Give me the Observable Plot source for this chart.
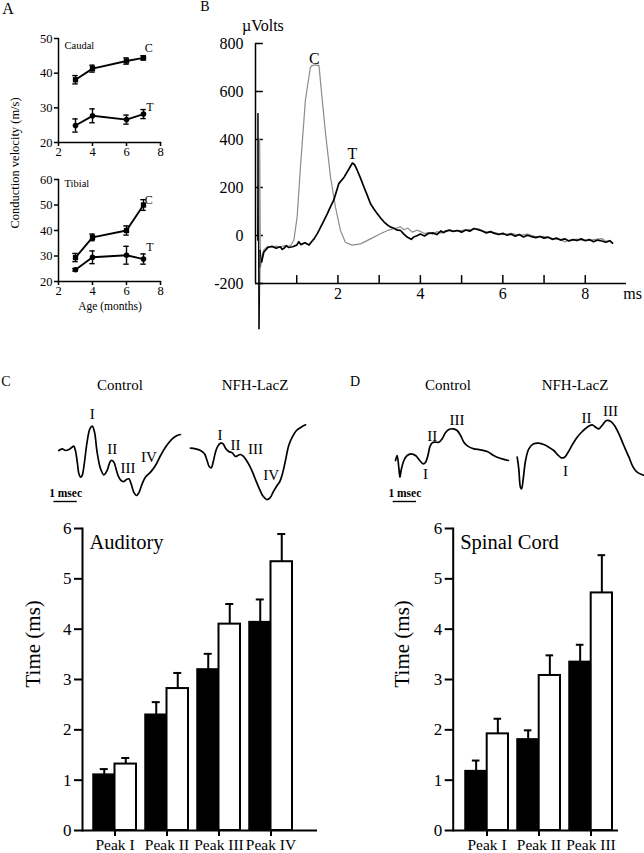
<!DOCTYPE html>
<html><head><meta charset="utf-8">
<script src="https://cdn.jsdelivr.net/npm/d3@7"></script>
<script src="https://cdn.jsdelivr.net/npm/@observablehq/plot@0.6"></script>
<style>
body{margin:0;background:#fff;}
#fig{position:relative;width:644px;height:853px;overflow:hidden;background:#fff;font-family:"Liberation Serif","Times New Roman",serif;color:#000;}
</style></head><body><div id="fig"></div>
<script>
// ---------- Panel A data ----------
const ages = [3, 4, 6, 7];
const ageTicks = [2, 4, 6, 8];
const caudalTicks = [20, 30, 40, 50];
const tibialTicks = [20, 30, 40, 50, 60];
const caudalC = [38.1, 41.3, 43.5, 44.4];
const caudalCErr = [1.2, 1.0, 0.9, 0.6];
const caudalT = [24.9, 27.7, 26.6, 28.2];
const caudalTErr = [1.9, 2.0, 1.3, 1.3];
const tibialC = [29.4, 37.3, 40.0, 50.0];
const tibialCErr = [1.6, 1.3, 1.8, 2.1];
const tibialT = [24.6, 29.5, 30.3, 28.8];
const tibialTErr = [0.5, 2.5, 3.5, 2.0];

// ---------- Panel B data (ms, µV) ----------
const bYTicks = [-200, 0, 200, 400, 600, 800];
const bXLabels = [2, 4, 6, 8];
const bXTicks = [1, 2, 3, 4, 5, 6, 7, 8];
const traceC = [[0.15,-90],[0.2,-60],[0.3,-45],[0.4,-50],[0.5,-44],[0.6,-49],[0.7,-42],[0.8,-46],[0.86,-40],[0.93,-20],[1.01,77],[1.09,285],[1.21,563],[1.33,700],[1.37,708],[1.45,711],[1.54,708],[1.62,563],[1.70,424],[1.82,243],[1.94,118],[2.06,21],[2.18,-28],[2.34,-40],[2.55,-35],[2.79,-14],[3.03,7],[3.19,20],[3.35,28],[3.52,36],[3.6,24],[3.7,31],[3.8,14],[3.92,22],[4.0,17],[4.1,8],[4.2,12],[4.3,5],[4.4,16],[4.5,10],[4.6,20],[4.8,17],[5.0,21],[5.2,25],[5.4,29],[5.5,20],[5.6,14],[5.8,12],[6.0,4],[6.2,9],[6.4,1],[6.6,6],[6.8,-5],[7.0,-4],[7.2,-12],[7.4,-16],[7.5,-27],[7.6,-20],[7.8,-15],[8.0,-23],[8.2,-17],[8.4,-13],[8.5,-24],[8.6,-20]];
const traceT = [[0.15,-110],[0.2,-70],[0.3,-50],[0.4,-45],[0.5,-53],[0.6,-47],[0.65,-58],[0.7,-52],[0.75,-42],[0.8,-50],[0.9,-47],[1.0,-40],[1.05,-26],[1.1,-38],[1.2,-30],[1.3,-40],[1.35,-28],[1.42,-14],[1.5,8],[1.58,35],[1.66,62],[1.74,90],[1.82,120],[1.9,148],[2.02,216],[2.15,243],[2.27,278],[2.35,302],[2.4,296],[2.47,271],[2.55,238],[2.63,202],[2.71,168],[2.79,132],[2.88,108],[2.96,90],[3.04,72],[3.12,56],[3.2,44],[3.28,35],[3.36,30],[3.44,22],[3.52,21],[3.6,6],[3.66,-4],[3.72,-10],[3.78,-16],[3.84,-6],[3.93,0],[4.0,6],[4.1,-2],[4.2,9],[4.3,11],[4.4,4],[4.5,19],[4.55,12],[4.6,16],[4.7,23],[4.8,17],[4.9,21],[5.0,14],[5.1,23],[5.2,18],[5.3,29],[5.4,24],[5.5,19],[5.6,11],[5.7,16],[5.8,9],[5.9,4],[6.0,9],[6.1,1],[6.2,6],[6.3,-3],[6.4,4],[6.5,-6],[6.6,1],[6.7,-5],[6.8,-9],[6.9,-4],[7.0,-11],[7.1,-7],[7.2,-16],[7.3,-11],[7.4,-19],[7.5,-14],[7.6,-23],[7.7,-17],[7.8,-21],[7.9,-14],[8.0,-21],[8.1,-17],[8.2,-26],[8.3,-19],[8.4,-23],[8.5,-28],[8.6,-22],[8.66,-32]];
const artifactBlack = [[0.05,-20],[0.06,510],[0.08,-390],[0.09,-390],[0.11,-60],[0.15,-110]];
const artifactGray = [[0.09,400],[0.11,-130],[0.15,-90]];

// ---------- Panel C/D waveform data (ms, arbitrary amplitude) ----------
const audControlWave = [[0,1.35],[0.14,1.40],[0.29,1.35],[0.43,1.38],[0.57,1.45],[0.64,1.48],[0.71,1.35],[0.79,1.00],[0.86,0.65],[0.93,0.55],[1.00,0.60],[1.07,0.85],[1.21,1.60],[1.33,2.00],[1.43,2.08],[1.53,1.90],[1.64,1.30],[1.79,0.80],[1.93,0.62],[2.07,0.75],[2.16,0.95],[2.24,1.05],[2.36,1.00],[2.47,0.75],[2.57,0.55],[2.67,0.45],[2.79,0.42],[2.90,0.48],[3.00,0.50],[3.10,0.35],[3.21,0.10],[3.33,0.00],[3.43,0.08],[3.57,0.35],[3.71,0.55],[3.93,0.70],[4.14,0.90],[4.36,1.20],[4.57,1.45],[4.86,1.70],[5.07,1.80],[5.21,1.83]];
const audNfhWave = [[0,1.42],[0.21,1.40],[0.43,1.35],[0.6,1.25],[0.71,1.05],[0.8,0.87],[0.89,0.83],[0.97,1.00],[1.07,1.30],[1.17,1.48],[1.29,1.57],[1.4,1.55],[1.5,1.42],[1.64,1.32],[1.79,1.28],[1.93,1.17],[2.03,1.20],[2.14,1.23],[2.26,1.18],[2.4,1.05],[2.54,0.88],[2.69,0.65],[2.83,0.40],[2.97,0.17],[3.11,-0.02],[3.26,-0.12],[3.4,-0.08],[3.54,0.10],[3.69,0.28],[3.83,0.42],[3.94,0.65],[4.07,1.05],[4.21,1.50],[4.36,1.75],[4.54,1.95],[4.74,2.05],[4.93,2.12]];
const spControlWave = [[0,1.05],[0.07,1.2],[0.14,0.85],[0.19,0.55],[0.24,0.75],[0.36,1.05],[0.5,1.2],[0.67,1.25],[0.86,1.2],[1.04,1.05],[1.19,0.95],[1.29,1.0],[1.39,1.2],[1.47,1.45],[1.57,1.58],[1.71,1.6],[1.86,1.6],[2.0,1.7],[2.14,1.88],[2.29,1.98],[2.47,2.0],[2.64,1.95],[2.79,1.8],[2.93,1.6],[3.1,1.48],[3.36,1.4],[3.64,1.37],[3.93,1.32],[4.21,1.2],[4.36,1.15],[4.57,1.1],[4.84,1.05]];
const spNfhWave = [[0,1.15],[0.07,0.8],[0.14,0.25],[0.19,0.2],[0.26,0.5],[0.36,1.05],[0.5,1.4],[0.71,1.55],[0.93,1.57],[1.14,1.53],[1.36,1.45],[1.57,1.35],[1.74,1.22],[1.89,1.13],[2.03,1.15],[2.17,1.28],[2.36,1.52],[2.57,1.75],[2.79,1.92],[3.0,2.05],[3.21,2.12],[3.36,2.05],[3.5,2.0],[3.64,2.1],[3.83,2.25],[4.0,2.23],[4.17,2.1],[4.36,1.85],[4.57,1.5],[4.79,1.15],[4.97,0.85],[5.14,0.7],[5.36,0.62],[5.46,0.6]];
const audControlPeaks = [["I",1.43,2.45],["II",2.29,1.40],["III",2.96,0.82],["IV",3.86,1.15]];
const audNfhPeaks = [["I",1.26,1.82],["II",1.93,1.52],["III",2.79,1.40],["IV",3.46,0.62]];
const spControlPeaks = [["I",1.29,0.65],["II",1.57,1.78],["III",2.64,2.25]];
const spNfhPeaks = [["I",2.07,0.72],["II",2.97,2.32],["III",4.0,2.52]];
const scaleBarMs = 1;

// ---------- Bar data ----------
const audPeaks = ["Peak I", "Peak II", "Peak III", "Peak IV"];
const audControl = [1.11, 2.30, 3.20, 4.14];
const audControlSem = [0.11, 0.25, 0.31, 0.45];
const audNfh = [1.32, 2.82, 4.10, 5.34];
const audNfhSem = [0.12, 0.31, 0.40, 0.55];
const spPeaks = ["Peak I", "Peak II", "Peak III"];
const spControl = [1.18, 1.81, 3.35];
const spControlSem = [0.21, 0.18, 0.34];
const spNfh = [1.92, 3.08, 4.72];
const spNfhSem = [0.30, 0.40, 0.75];
const timeTicks = [0, 1, 2, 3, 4, 5, 6];

// ---------- helpers ----------
const FONT = '"Liberation Serif","Times New Roman",serif';
const fig = document.getElementById("fig");
const baseStyle = {fontFamily: FONT, background: "transparent", overflow: "visible", color: "black"};
const intFmt = d => String(d);
function place(node, left, top) {
  node.style.position = "absolute";
  node.style.left = left + "px";
  node.style.top = top + "px";
  fig.appendChild(node);
}
function label(text, cx, cy, size, opts = {}) {
  const d = document.createElement("div");
  d.textContent = text;
  Object.assign(d.style, {
    position: "absolute", left: cx + "px", top: cy + "px",
    transform: "translate(-50%,-50%)" + (opts.rotate ? ` rotate(${opts.rotate}deg)` : ""),
    fontSize: size + "px", fontFamily: FONT, whiteSpace: "nowrap", lineHeight: "1",
    fontWeight: opts.weight || "normal"
  });
  fig.appendChild(d);
}

// ---------- Panel A ----------
function velocityPanel({title, yDomain, yTicks, C, Ce, T, Te, height, marginTop, marginBottom, cOff, tOff}) {
  const rows = [
    ...ages.map((a, i) => ({age: a, v: C[i], e: Ce[i], s: "C"})),
    ...ages.map((a, i) => ({age: a, v: T[i], e: Te[i], s: "T"}))
  ];
  const caps = rows.flatMap(d => [{age: d.age, y: d.v - d.e}, {age: d.age, y: d.v + d.e}]);
  const nL = ages.length - 1;
  const tags = [
    {x: ages[nL] + 0.31, y: C[nL] + cOff, t: "C"},
    {x: ages[nL] + 0.38, y: T[nL] + tOff, t: "T"}
  ];
  return Plot.plot({
    width: 200, height, marginLeft: 58, marginRight: 40, marginTop, marginBottom,
    x: {domain: [2, 8]}, y: {domain: yDomain},
    style: baseStyle,
    marks: [
      Plot.frame({anchor: "left", strokeWidth: 1.5}),
      Plot.frame({anchor: "bottom", strokeWidth: 1.5}),
      Plot.axisX({ticks: ageTicks, tickFormat: intFmt, tickSize: 4, tickPadding: 1, fontSize: 12.5, label: null, strokeWidth: 1.5}),
      Plot.axisY({ticks: yTicks, tickFormat: intFmt, tickSize: 4, tickPadding: 2, fontSize: 12.5, label: null, strokeWidth: 1.5}),
      Plot.ruleX(rows, {x: "age", y1: d => d.v - d.e, y2: d => d.v + d.e, strokeWidth: 1.4}),
      Plot.ruleY(caps, {y: "y", x1: d => d.age - 0.16, x2: d => d.age + 0.16, strokeWidth: 1.4}),
      Plot.line(rows, {x: "age", y: "v", z: "s", stroke: "black", strokeWidth: 1.9}),
      Plot.dot(rows.filter(d => d.s === "C"), {x: "age", y: "v", fill: "black", r: 3, symbol: "square"}),
      Plot.dot(rows.filter(d => d.s === "T"), {x: "age", y: "v", fill: "black", r: 2.8}),
      Plot.text([title], {frameAnchor: "top-left", dx: 6, dy: marginTop > 20 ? 7 : 4, fontSize: 10.5, textAnchor: "start", lineAnchor: "middle", fill: "black"}),
      Plot.text(tags, {x: "x", y: "y", text: "t", fontSize: 12, fill: "black"})
    ]
  });
}
place(velocityPanel({title: "Caudal", yDomain: [20, 50], yTicks: caudalTicks, C: caudalC, Ce: caudalCErr, T: caudalT, Te: caudalTErr, height: 165, marginTop: 38, marginBottom: 23, cOff: 2.8, tOff: 2.0}), 0, 0);
place(velocityPanel({title: "Tibial", yDomain: [20, 60], yTicks: tibialTicks, C: tibialC, Ce: tibialCErr, T: tibialT, Te: tibialTErr, height: 150, marginTop: 14, marginBottom: 34, cOff: 1.8, tOff: 4.7}), 0, 165);
label("A", 8, 9, 16);
label("Conduction velocity (m/s)", 15, 163, 12.5, {rotate: -90});
label("Age (months)", 110, 307, 11.5);

// ---------- Panel B ----------
const bPlot = Plot.plot({
  width: 444, height: 340, marginLeft: 55, marginRight: 18, marginTop: 43, marginBottom: 57,
  x: {domain: [0, 9]}, y: {domain: [-200, 800]},
  style: baseStyle,
  marks: [
    Plot.ruleX([0], {y1: () => -200, y2: () => 800, strokeWidth: 1.5}),
    Plot.ruleY([-200], {x1: () => 0, x2: () => 9, strokeWidth: 1.5}),
    Plot.ruleY(bYTicks, {y: d => d, x1: () => 0, x2: () => 0.19, strokeWidth: 1.5}),
    Plot.ruleX(bXTicks, {x: d => d, y1: () => -200, y2: () => -167, strokeWidth: 1.5}),
    Plot.axisY({ticks: bYTicks, tickFormat: intFmt, tickSize: 0, tickPadding: 12, fontSize: 16, label: null}),
    Plot.axisX({ticks: bXLabels, tickFormat: intFmt, tickSize: 0, tickPadding: 4, fontSize: 16, label: null}),
    Plot.line(artifactGray, {x: d => d[0], y: d => d[1], stroke: "#999", strokeWidth: 2.2}),
    Plot.line(artifactBlack, {x: d => d[0], y: d => d[1], stroke: "black", strokeWidth: 1}),
    Plot.line(traceC, {x: d => d[0], y: d => d[1], stroke: "#8c8c8c", strokeWidth: 1.2}),
    Plot.line(traceT, {x: d => d[0], y: d => d[1], stroke: "black", strokeWidth: 1.7}),
    Plot.text(["µVolts"], {x: () => 0.18, y: () => 875, fontSize: 16, fill: "black"}),
    Plot.text(["ms"], {x: () => 9.15, y: () => -242, fontSize: 16, fill: "black"}),
    Plot.text(["C"], {x: () => 1.43, y: () => 737, fontSize: 16, fill: "black"}),
    Plot.text(["T"], {x: () => 2.35, y: () => 342, fontSize: 16, fill: "black"})
  ]
});
place(bPlot, 200, 0);
label("B", 205, 7, 14);

// ---------- Panel C/D waveforms ----------
function wavePanel(wave, peaks, xDomain, width, bar) {
  const marks = [
    Plot.line(wave, {x: d => d[0], y: d => d[1], stroke: "black", strokeWidth: 1.7, curve: "catmull-rom"}),
    Plot.text(peaks, {x: d => d[1], y: d => d[2], text: d => d[0], fontSize: 15, fill: "black"})
  ];
  if (bar !== null) {
    marks.push(Plot.ruleY([-0.18], {x1: () => bar, x2: () => bar + scaleBarMs, strokeWidth: 1.4}));
    marks.push(Plot.text(["1 msec"], {x: () => bar + scaleBarMs / 2, y: () => 0.07, fontSize: 11.5, fontWeight: 600, fill: "black"}));
  }
  return Plot.plot({
    width, height: 110, margin: 0,
    x: {domain: xDomain, axis: null}, y: {domain: [-0.3, 3.0], axis: null},
    style: baseStyle, marks
  });
}
place(wavePanel(audControlWave, audControlPeaks, [-0.786, 5.643], 150, -0.21), 40, 395);
place(wavePanel(audNfhWave, audNfhPeaks, [-0.4286, 6.0], 150, null), 180, 395);
place(wavePanel(spControlWave, spControlPeaks, [-0.643, 4.929], 130, -0.1), 380, 395);
place(wavePanel(spNfhWave, spNfhPeaks, [-0.714, 5.457], 144, null), 500, 395);
label("C", 6, 382, 14);
label("D", 355, 382, 14);
label("Control", 120, 385, 15);
label("NFH-LacZ", 255, 385, 15);
label("Control", 448, 385, 15);
label("NFH-LacZ", 575, 385, 15);

// ---------- Bar charts ----------
function barPanel({peaks, ctrl, ctrlSem, nfh, nfhSem, title, marginLeft, marginRight, paddingOuter, align, half}) {
  const cRows = peaks.map((p, i) => ({peak: p, v: ctrl[i], e: ctrlSem[i]}));
  const nRows = peaks.map((p, i) => ({peak: p, v: nfh[i], e: nfhSem[i]}));
  return Plot.plot({
    width: 322, height: 353, marginLeft, marginRight, marginTop: 28, marginBottom: 23,
    x: {type: "band", domain: peaks, paddingInner: 0.18, paddingOuter, align},
    y: {domain: [0, 6]},
    style: baseStyle,
    marks: [
      Plot.ruleX(cRows, {x: "peak", y1: "v", y2: d => d.v + d.e, dx: -half / 2, strokeWidth: 2}),
      Plot.tickY(cRows, {x: "peak", y: d => d.v + d.e, insetLeft: half / 2 - 4, insetRight: half * 1.5 - 4, strokeWidth: 2}),
      Plot.ruleX(nRows, {x: "peak", y1: "v", y2: d => d.v + d.e, dx: half / 2, strokeWidth: 2}),
      Plot.tickY(nRows, {x: "peak", y: d => d.v + d.e, insetLeft: half * 1.5 - 4, insetRight: half / 2 - 4, strokeWidth: 2}),
      Plot.barY(cRows, {x: "peak", y: "v", fill: "black", stroke: "black", strokeWidth: 1.5, insetRight: half}),
      Plot.barY(nRows, {x: "peak", y: "v", fill: "white", stroke: "black", strokeWidth: 2, insetLeft: half}),
      Plot.ruleY([0], {strokeWidth: 2}),
      Plot.frame({anchor: "left", strokeWidth: 2}),
      Plot.axisY({ticks: timeTicks, tickFormat: intFmt, tickSize: 8, tickPadding: 3, fontSize: 17, label: null, strokeWidth: 2}),
      Plot.axisX({tickSize: 6, tickPadding: 2, fontSize: 15.5, label: null, strokeWidth: 2}),
      Plot.text([title], {frameAnchor: "top-left", dx: 7, dy: 14, fontSize: 20.5, textAnchor: "start", lineAnchor: "middle", fill: "black"}),
      Plot.text(["Time (ms)"], {frameAnchor: "left", rotate: -90, dx: marginLeft > 100 ? -51 : -49, dy: 8, fontSize: 21, fill: "black"})
    ]
  });
}
place(barPanel({peaks: audPeaks, ctrl: audControl, ctrlSem: audControlSem, nfh: audNfh, nfhSem: audNfhSem, title: "Auditory", marginLeft: 82, marginRight: 5, paddingOuter: 0.33, align: 0.31, half: 21.5}), 0, 500);
place(barPanel({peaks: spPeaks, ctrl: spControl, ctrlSem: spControlSem, nfh: spNfh, nfhSem: spNfhSem, title: "Spinal Cord", marginLeft: 130.7, marginRight: 26, paddingOuter: 0.15, align: 0.67, half: 21.7}), 322, 500);
</script></body></html>
